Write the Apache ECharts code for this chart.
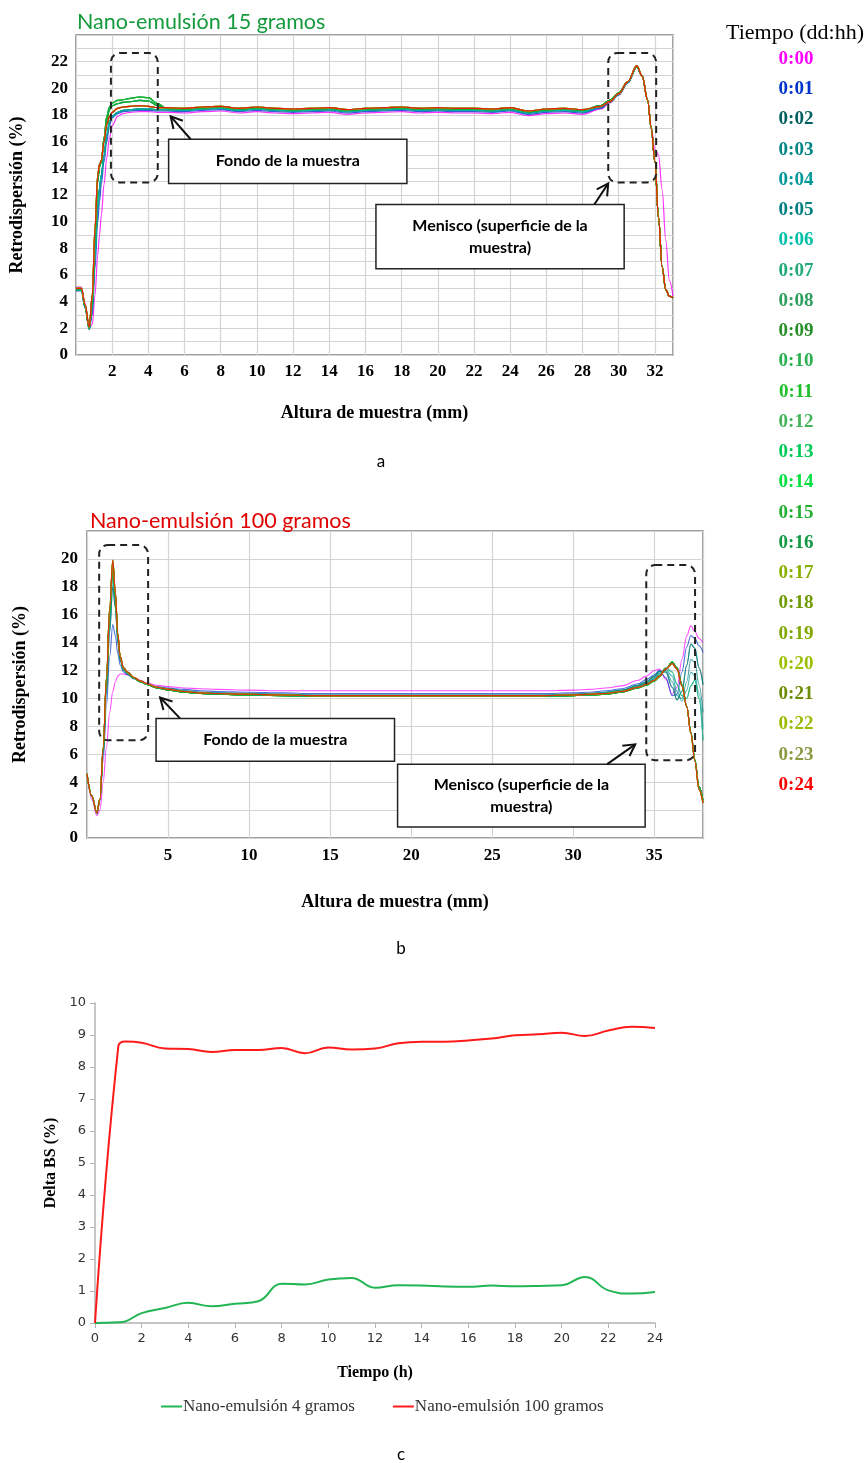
<!DOCTYPE html>
<html>
<head>
<meta charset="utf-8">
<script src="https://cdn.jsdelivr.net/npm/echarts@6/dist/echarts.min.js"></script>
<style>
html,body{margin:0;padding:0;background:#fff;}
#c{width:867px;height:1463px;}
</style>
</head>
<body>
<div id="c"></div>
<script>
// ---------- legend (time labels) ----------
const timeLabels = ['0:00','0:01','0:02','0:03','0:04','0:05','0:06','0:07','0:08','0:09','0:10','0:11','0:12','0:13','0:14','0:15','0:16','0:17','0:18','0:19','0:20','0:21','0:22','0:23','0:24'];
const timeColors = ['#ff00ff','#0033cc','#006060','#008585','#009999','#007f80','#00c0a8','#22aa77','#2e9e5e','#2a8f2a','#2ab050','#1fbf2a','#44b35a','#00cc55','#00e040','#22b030','#119944','#88b000','#6f9a00','#80a800','#99c000','#6b8c00','#99bb00','#8a9a40','#ff0000'];

// ---------- chart a: Nano-emulsión 15 gramos ----------
const xA = [0,0.3,0.5,0.73,0.9,1.05,1.2,1.3,1.4,1.55,1.7,1.85,2,2.3,2.6,3,3.5,4,4.5,5,6,7,8,9,10,11,12,13,14,15,16,17,18,19,20,21,22,23,24,25,26,27,28,29,29.5,30,30.5,31,31.3,31.6,31.8,32,32.2,32.4,32.6,32.8,33];
const a00 = [5.1,5.1,3.9,2.0,2.3,4.5,7.5,9.0,10.5,12.8,14.8,16.3,17.2,17.9,18.1,18.2,18.25,18.25,18.2,
  18.2,18.15,18.25,18.3,18.15,18.25,18.15,18.1,18.15,18.2,18.05,18.15,18.2,18.25,18.15,18.2,18.15,18.15,18.1,18.2,17.95,18.1,18.15,18.05,
  18.45,18.9,19.5,20.4,21.6,20.9,19.1,17.0,15.4,15.0,12.4,8.6,5.6,4.4];
const a01 = [4.8,4.8,3.5,1.9,3.0,6.5,10.0,11.5,12.8,14.5,16.0,17.2,17.8,18.1,18.25,18.3,18.35,18.35,18.3,
  18.3,18.25,18.35,18.4,18.25,18.35,18.25,18.2,18.25,18.3,18.15,18.25,18.3,18.35,18.25,18.3,18.25,18.25,18.2,18.3,18.05,18.2,18.25,18.15,
  18.5,18.95,19.5,20.4,21.6,20.9,19.1,17.0,14.5,10.3,6.6,4.9,4.4,4.3];
const aTeal = [4.9,4.85,3.6,1.95,3.5,7.5,11.0,12.5,13.5,15.0,16.5,17.5,17.9,18.2,18.35,18.4,18.45,18.45,18.4,
  18.4,18.35,18.45,18.5,18.35,18.45,18.35,18.3,18.35,18.4,18.25,18.35,18.4,18.45,18.35,18.4,18.35,18.35,18.3,18.4,18.15,18.3,18.35,18.25,
  18.6,19.0,19.55,20.45,21.6,20.9,19.1,17.0,14.5,10.3,6.6,4.9,4.4,4.3];
const aGreenA = [4.95,4.95,3.7,2.0,4.0,9.0,13.2,14.2,14.5,16.3,17.9,18.6,18.9,19.1,19.15,19.25,19.35,19.3,18.85,
  18.5,18.45,18.55,18.6,18.45,18.55,18.45,18.4,18.45,18.5,18.35,18.45,18.5,18.55,18.45,18.5,18.45,18.45,18.4,18.5,18.25,18.4,18.45,18.35,
  18.7,19.1,19.65,20.5,21.65,20.9,19.1,17.0,14.5,10.3,6.6,4.9,4.4,4.3];
const aGreenB = [4.95,4.95,3.7,2.0,4.0,8.8,13.0,14.1,14.5,16.1,17.6,18.4,18.7,18.85,18.95,19.0,19.1,19.05,18.7,
  18.5,18.45,18.55,18.6,18.45,18.55,18.45,18.4,18.45,18.5,18.35,18.45,18.5,18.55,18.45,18.5,18.45,18.45,18.4,18.5,18.25,18.4,18.45,18.35,
  18.7,19.1,19.65,20.5,21.65,20.9,19.1,17.0,14.5,10.3,6.6,4.9,4.4,4.3];
const aLate = [5.0,5.0,3.8,2.1,4.5,9.5,13.5,14.3,14.6,16.0,17.3,17.9,18.2,18.5,18.6,18.65,18.7,18.65,18.55,
  18.55,18.5,18.6,18.65,18.5,18.6,18.5,18.45,18.5,18.55,18.4,18.5,18.55,18.6,18.5,18.55,18.5,18.5,18.45,18.55,18.3,18.45,18.5,18.4,
  18.65,19.0,19.6,20.5,21.7,20.9,19.1,17.0,14.5,10.3,6.6,4.9,4.4,4.3];
// profile used by each time label (index into the profiles list)
const aProfiles = [a00, a01, aTeal, aGreenA, aGreenB, aLate];
const aMap = [0,1,2,2,2,2,2,4,4,3,3,4,3,3,4,3,4,5,5,5,5,5,5,5,5];

// ---------- chart b: Nano-emulsión 100 gramos ----------
const xB = [0,0.3,0.61,0.8,1.0,1.2,1.4,1.59,1.75,1.9,2.05,2.25,2.5,2.9,3.3,3.7,4.3,5,6,7,8,10,12,14,16,18,20,22,24,26,28,30,31,32,33,34,34.5,35,35.3,35.7,36.1,36.4,36.7,37,37.25,37.5,37.75,38];
const b00 = [4.6,2.8,1.6,2.0,4.0,6.5,9.0,10.5,11.2,11.6,11.75,11.75,11.7,11.5,11.3,11.1,10.95,
  10.85,10.75,10.7,10.65,10.6,10.55,10.55,10.55,10.55,10.55,10.55,10.55,10.55,10.55,10.6,10.65,10.75,10.9,
  11.3,11.6,12.0,12.1,11.4,10.3,10.8,12.8,14.5,15.2,14.8,14.3,14.0];
const b01 = [4.6,3.0,1.75,2.7,5.5,9.5,13.0,15.3,14.5,13.2,12.4,11.9,11.7,11.4,11.2,11.0,10.85,
  10.75,10.65,10.55,10.5,10.45,10.4,10.35,10.35,10.35,10.35,10.35,10.35,10.35,10.35,10.4,10.45,10.55,10.7,
  11.05,11.35,11.7,12.0,11.5,10.2,10.3,11.9,13.7,14.5,14.3,13.8,13.3];
const bTealA = [4.6,3.0,1.8,2.8,6.0,10.5,14.8,18.0,16.5,14.0,12.7,12.05,11.8,11.45,11.2,11.0,10.8,
  10.7,10.55,10.45,10.4,10.35,10.3,10.25,10.25,10.25,10.25,10.25,10.25,10.25,10.25,10.3,10.35,10.45,10.6,
  10.95,11.2,11.6,11.95,11.9,10.8,9.9,10.5,12.4,13.9,13.6,12.2,11.0];
const bTealB = [4.6,3.0,1.8,2.8,6.3,11.0,15.8,19.2,17.2,14.4,12.9,12.1,11.8,11.45,11.2,11.0,10.8,
  10.65,10.5,10.4,10.35,10.3,10.25,10.2,10.2,10.2,10.2,10.2,10.2,10.2,10.2,10.25,10.3,10.4,10.55,
  10.9,11.1,11.45,11.8,12.1,11.6,10.5,9.8,10.6,11.9,11.6,10.4,7.8];
const bTealC = [4.6,3.0,1.8,2.8,6.2,10.8,15.5,18.8,17.0,14.3,12.85,12.1,11.8,11.45,11.2,11.0,10.8,
  10.65,10.5,10.4,10.35,10.3,10.25,10.2,10.2,10.2,10.2,10.2,10.2,10.2,10.2,10.25,10.3,10.4,10.55,
  10.9,11.1,11.5,11.9,12.0,11.2,10.2,10.0,11.2,12.8,12.6,11.0,9.0];
const bTealD = [4.6,3.0,1.8,2.8,6.3,11.1,15.9,19.0,17.1,14.4,12.9,12.1,11.8,11.45,11.2,11.0,10.8,
  10.65,10.5,10.4,10.35,10.3,10.25,10.2,10.2,10.2,10.2,10.2,10.2,10.2,10.2,10.25,10.3,10.4,10.55,
  10.85,11.05,11.4,11.7,12.2,11.9,11.0,10.2,10.0,10.9,11.3,10.0,7.0];
const bGreen = [4.6,3.0,1.8,2.8,6.4,11.3,16.2,19.6,17.4,14.5,12.95,12.15,11.85,11.45,11.2,11.0,10.75,
  10.6,10.45,10.35,10.3,10.25,10.2,10.15,10.15,10.15,10.15,10.15,10.15,10.15,10.15,10.2,10.25,10.3,10.45,
  10.75,10.95,11.25,11.55,12.1,12.6,12.2,11.0,9.4,7.6,5.6,3.7,2.7];
const bLate = [4.6,3.0,1.8,2.8,6.5,11.5,16.5,19.9,17.6,14.6,13.0,12.2,11.9,11.5,11.25,11.05,10.8,
  10.65,10.5,10.4,10.35,10.3,10.25,10.2,10.2,10.2,10.2,10.2,10.2,10.2,10.2,10.25,10.3,10.35,10.5,
  10.8,11.0,11.3,11.6,12.1,12.5,12.1,10.9,9.4,7.5,5.5,3.5,2.5];
const bProfiles = [b00, b01, bTealA, bTealB, bTealC, bTealD, bGreen, bLate];
const bMap = [0,1,2,2,3,4,5,5,6,6,6,6,6,6,6,6,6,7,7,7,7,7,7,7,7];

// ---------- chart c: Delta BS ----------
const tC = [0,1,1.3,2,3,4,5,6,7,8,9,10,11,12,13,14,15,16,17,18,19,20,21,22,23,24];
const c4g = [0,0.02,0.05,0.31,0.47,0.63,0.52,0.6,0.68,1.23,1.2,1.36,1.41,1.1,1.18,1.17,1.14,1.13,1.17,1.15,1.16,1.18,1.44,1.02,0.92,0.97];
const c100g = [0,8.65,8.8,8.76,8.58,8.56,8.47,8.53,8.53,8.59,8.43,8.61,8.55,8.58,8.74,8.79,8.79,8.83,8.89,8.99,9.02,9.07,8.97,9.14,9.26,9.22];
const cNames = ['Nano-emulsión 4 gramos','Nano-emulsión 100 gramos'];
const cColors = ['#22b554','#ff1a1a'];

const aTicks = [0,2,4,6,8,10,12,14,16,18,20,22];
const bTicks = [0,2,4,6,8,10,12,14,16,18,20];

// ---------- build ----------
const serif = '"Liberation Serif","DejaVu Serif",serif';
const sans = 'Lato,"Open Sans",sans-serif';

const series = [];
timeLabels.forEach((t, i) => {
  series.push({
    name: 'a ' + t, type: 'line', xAxisIndex: 0, yAxisIndex: 0,
    data: xA.map((x, k) => [x, aProfiles[aMap[i]][k]]),
    showSymbol: false, smooth: 0.35, smoothMonotone: 'x', silent: true,
    lineStyle: {color: timeColors[i], width: 1.2, opacity: 0.8}, z: 3
  });
});
timeLabels.forEach((t, i) => {
  series.push({
    name: 'b ' + t, type: 'line', xAxisIndex: 1, yAxisIndex: 1,
    data: xB.map((x, k) => [x, bProfiles[bMap[i]][k]]),
    showSymbol: false, smooth: 0.35, smoothMonotone: 'x', silent: true,
    lineStyle: {color: timeColors[i], width: 1.1, opacity: 0.7}, z: 3
  });
});
[c4g, c100g].forEach((arr, i) => {
  series.push({
    name: cNames[i], type: 'line', xAxisIndex: 2, yAxisIndex: 2,
    data: tC.map((t, k) => [t, arr[k]]),
    showSymbol: false, smooth: 0.45, silent: true,
    itemStyle: {color: cColors[i]},
    lineStyle: {color: cColors[i], width: 2}
  });
});

const tickFont = {fontFamily: serif, fontWeight: 'bold', fontSize: 17, color: '#000'};
const nameFont = {fontFamily: serif, fontWeight: 'bold', fontSize: 18, color: '#000'};
const cTickFont = {fontFamily: '"DejaVu Sans",sans-serif', fontSize: 13, color: '#333', margin: 9};

const option = {
  animation: false,
  backgroundColor: '#fff',
  grid: [
    {left: 75, top: 35, width: 598, height: 320, show: true, borderColor: '#7f7f7f', borderWidth: 1.5, containLabel: false},
    {left: 87, top: 531, width: 616, height: 307, show: true, borderColor: '#7f7f7f', borderWidth: 1.5, containLabel: false},
    {left: 95, top: 1003, width: 560, height: 320, containLabel: false}
  ],
  xAxis: [
    {type: 'value', gridIndex: 0, min: 0, max: 33, interval: 2,
     name: 'Altura de muestra (mm)', nameLocation: 'middle', nameGap: 49, nameTextStyle: nameFont,
     axisLine: {show: false}, axisTick: {show: false},
     axisLabel: Object.assign({showMinLabel: false, showMaxLabel: false, margin: 8}, tickFont),
     splitLine: {show: true, lineStyle: {color: '#d4d4d4', width: 1.2}}},
    {type: 'value', gridIndex: 1, min: 0, max: 38, interval: 5,
     name: 'Altura de muestra (mm)', nameLocation: 'middle', nameGap: 55, nameTextStyle: nameFont,
     axisLine: {show: false}, axisTick: {show: false},
     axisLabel: Object.assign({showMinLabel: false, showMaxLabel: false, margin: 9}, tickFont),
     splitLine: {show: true, lineStyle: {color: '#d4d4d4', width: 1.2}}},
    {type: 'value', gridIndex: 2, min: 0, max: 24, interval: 2,
     name: 'Tiempo (h)', nameLocation: 'middle', nameGap: 42,
     nameTextStyle: {fontFamily: serif, fontWeight: 'bold', fontSize: 16, color: '#000'},
     axisLine: {show: true, lineStyle: {color: '#b3b3b3', width: 1.5}},
     axisTick: {show: true, length: 5, lineStyle: {color: '#b3b3b3'}},
     axisLabel: cTickFont,
     splitLine: {show: false}}
  ],
  yAxis: [
    {type: 'value', gridIndex: 0, min: 0, max: 24, interval: 1,
     name: 'Retrodispersión (%)', nameLocation: 'middle', nameGap: 50, nameTextStyle: nameFont,
     axisLine: {show: false}, axisTick: {show: false},
     axisLabel: Object.assign({margin: 8, padding: [10, 0, 0, 0],
       formatter: v => (aTicks.indexOf(v) >= 0 ? String(v) : '')}, tickFont),
     splitLine: {show: true, lineStyle: {color: '#d4d4d4', width: 1.2}}},
    {type: 'value', gridIndex: 1, min: 0, max: 22, interval: 2,
     name: 'Retrodispersión (%)', nameLocation: 'middle', nameGap: 58, nameTextStyle: nameFont,
     axisLine: {show: false}, axisTick: {show: false},
     axisLabel: Object.assign({margin: 9, padding: [8, 0, 0, 0],
       formatter: v => (bTicks.indexOf(v) >= 0 ? String(v) : '')}, tickFont),
     splitLine: {show: true, lineStyle: {color: '#d4d4d4', width: 1.2}}},
    {type: 'value', gridIndex: 2, min: 0, max: 10, interval: 1,
     name: 'Delta BS (%)', nameLocation: 'middle', nameGap: 27,
     nameTextStyle: {fontFamily: serif, fontWeight: 'bold', fontSize: 16, color: '#000'},
     axisLine: {show: true, lineStyle: {color: '#b3b3b3', width: 1.5}},
     axisTick: {show: true, length: 5, lineStyle: {color: '#b3b3b3'}},
     axisLabel: cTickFont,
     splitLine: {show: false}}
  ],
  legend: {
    data: cNames, top: 1393, left: 156, icon: 'rect', itemWidth: 21, itemHeight: 2, itemGap: 38,
    textStyle: {fontFamily: serif, fontSize: 17, color: '#333', padding: [0, 0, 0, -4]}
  },
  series: series
};

const chart = echarts.init(document.getElementById('c'));
chart.setOption(option);

// ---------- annotations (positioned from data coordinates) ----------
function P(g, x, y) { return chart.convertToPixel({xAxisIndex: g, yAxisIndex: g}, [x, y]); }
const G = [];
function text(x, y, str, font, fill, align) {
  G.push({type: 'text', x: x, y: y, z: 100,
    style: {text: str, font: font, fill: fill, textAlign: align || 'center', textVerticalAlign: 'middle', verticalAlign: 'middle'}});
}
function dashRect(g, x0, x1, y0, y1) {
  const p0 = P(g, x0, y1), p1 = P(g, x1, y0);
  G.push({type: 'rect', z: 90, shape: {x: p0[0], y: p0[1], width: p1[0] - p0[0], height: p1[1] - p0[1], r: 9},
    style: {fill: 'none', stroke: '#222', lineWidth: 2, lineDash: [7, 5]}});
}
function box(g, x0, x1, y0, y1, lines) {
  const p0 = P(g, x0, y1), p1 = P(g, x1, y0);
  G.push({type: 'rect', z: 90, shape: {x: p0[0], y: p0[1], width: p1[0] - p0[0], height: p1[1] - p0[1]},
    style: {fill: '#fff', stroke: '#222', lineWidth: 1.5}});
  const cx = (p0[0] + p1[0]) / 2, cy = (p0[1] + p1[1]) / 2;
  const lh = 22;
  lines.forEach((l, i) => text(cx, cy + (i - (lines.length - 1) / 2) * lh, l, 'bold 16px ' + sans, '#000'));
}
function arrow(g, xa, ya, xb, yb) {
  const a = P(g, xa, ya), b = P(g, xb, yb);
  G.push({type: 'line', z: 95, shape: {x1: a[0], y1: a[1], x2: b[0], y2: b[1]}, style: {stroke: '#111', lineWidth: 2}});
  const ang = Math.atan2(b[1] - a[1], b[0] - a[0]);
  const L = 13, w = 0.5;
  const h1 = [b[0] - L * Math.cos(ang - w), b[1] - L * Math.sin(ang - w)];
  const h2 = [b[0] - L * Math.cos(ang + w), b[1] - L * Math.sin(ang + w)];
  G.push({type: 'polyline', z: 95, shape: {points: [h1, b, h2]}, style: {stroke: '#111', lineWidth: 2, fill: 'none'}});
}

// chart a
dashRect(0, 1.93, 4.52, 12.94, 22.65);
dashRect(0, 29.42, 32.07, 12.94, 22.65);
box(0, 5.12, 18.29, 12.87, 16.18, ['Fondo de la muestra']);
arrow(0, 6.34, 16.18, 5.23, 17.9);
box(0, 16.58, 30.3, 6.47, 11.29, ['Menisco (superficie de la', 'muestra)']);
arrow(0, 28.65, 11.29, 29.42, 12.87);
// chart b
dashRect(1, 0.75, 3.77, 7.0, 21.0);
dashRect(1, 34.5, 37.51, 5.57, 19.57);
box(1, 4.26, 18.97, 5.5, 8.57, ['Fondo de la muestra']);
arrow(1, 5.74, 8.57, 4.51, 10.07);
box(1, 19.16, 34.43, 0.79, 5.29, ['Menisco (superficie de la', 'muestra)']);
arrow(1, 32.09, 5.29, 33.82, 6.71);

// titles and panel letters
text(77, 22, 'Nano-emulsión 15 gramos', '21.5px ' + sans, '#149a3c', 'left');
text(90, 521, 'Nano-emulsión 100 gramos', '21.5px ' + sans, '#e00000', 'left');
text(381, 462, 'a', '17px ' + sans, '#000');
text(401, 949, 'b', '17px ' + sans, '#000');
text(401, 1455, 'c', '17px ' + sans, '#000');

// time legend
text(795, 33, 'Tiempo (dd:hh)', '22px ' + serif, '#000');
timeLabels.forEach((t, i) => {
  text(796, 59 + i * 30.25, t, 'bold 19px ' + serif, timeColors[i]);
});

chart.setOption({graphic: {elements: G}});
</script>
</body>
</html>
